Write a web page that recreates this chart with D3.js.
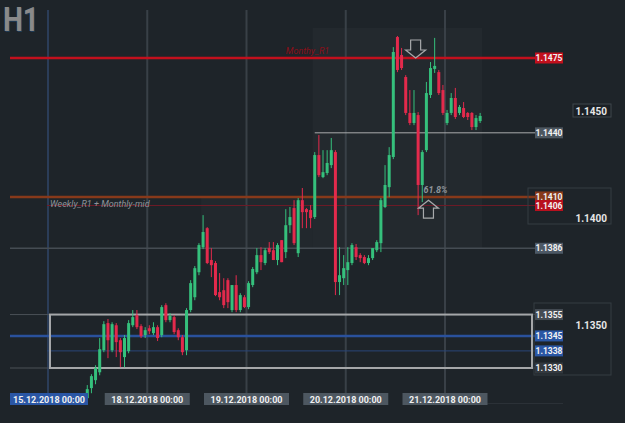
<!DOCTYPE html>
<html>
<head>
<script src="https://d3js.org/d3.v7.min.js"></script>
<style>
  body { margin: 0; background: #1e2429; }
  svg { display: block; font-family: Roboto, "DejaVu Sans", sans-serif; }
</style>
</head>
<body>
<svg width="625" height="423"></svg>
<script>
// hourly candles, first one is 15.12 09:00 (index counted in trading hours from 15.12 00:00)
const startHour = 9;
const opens = [1.13159,1.13206,1.13243,1.13280,1.13383,1.13510,1.13383,1.13500,1.13430,1.13351,1.13379,1.13500,1.13547,1.13496,1.13454,1.13486,1.13463,1.13491,1.13454,1.13594,1.13524,1.13538,1.13477,1.13444,1.13383,1.13571,1.13631,1.13748,1.13865,1.13954,1.13805,1.13791,1.13655,1.13664,1.13711,1.13571,1.13688,1.13571,1.13631,1.13585,1.13688,1.13748,1.13828,1.13791,1.13861,1.13851,1.13805,1.13898,1.13842,1.13968,1.14048,1.13837,1.14085,1.14043,1.14039,1.14006,1.14296,1.14193,1.14212,1.14249,1.14310,1.13702,1.13720,1.13758,1.13791,1.13865,1.13828,1.13819,1.13791,1.13814,1.13851,1.13884,1.14053,1.14146,1.14287,1.14848,1.14764,1.14661,1.14493,1.14446,1.14483,1.14156,1.14319,1.14577,1.14699,1.14684,1.14600,1.14446,1.14493,1.14563,1.14493,1.14516,1.14493,1.14493,1.14427,1.14455];
const highs = [1.13220,1.13271,1.13313,1.13440,1.13519,1.13529,1.13514,1.13510,1.13440,1.13454,1.13524,1.13571,1.13571,1.13505,1.13491,1.13500,1.13514,1.13500,1.13594,1.13603,1.13557,1.13547,1.13486,1.13454,1.13580,1.13711,1.13777,1.13884,1.14015,1.13959,1.13861,1.13800,1.13744,1.13720,1.13720,1.13688,1.13734,1.13650,1.13641,1.13706,1.13772,1.13861,1.13865,1.13861,1.13889,1.13889,1.13884,1.13898,1.14043,1.14053,1.14085,1.14095,1.14142,1.14048,1.14062,1.14310,1.14390,1.14319,1.14319,1.14376,1.14319,1.13865,1.13828,1.13865,1.13884,1.13880,1.13837,1.13828,1.13828,1.13861,1.13898,1.14095,1.14249,1.14333,1.14801,1.14853,1.14797,1.14670,1.14600,1.14600,1.14497,1.14319,1.14638,1.14731,1.14844,1.14694,1.14624,1.14507,1.14586,1.14610,1.14530,1.14544,1.14497,1.14497,1.14483,1.14493];
const lows = [1.13149,1.13182,1.13224,1.13266,1.13374,1.13346,1.13374,1.13351,1.13304,1.13304,1.13369,1.13491,1.13482,1.13440,1.13440,1.13458,1.13454,1.13426,1.13444,1.13514,1.13514,1.13458,1.13430,1.13360,1.13360,1.13561,1.13617,1.13734,1.13856,1.13786,1.13725,1.13636,1.13617,1.13580,1.13580,1.13561,1.13561,1.13561,1.13580,1.13575,1.13678,1.13739,1.13758,1.13781,1.13833,1.13805,1.13781,1.13795,1.13814,1.13931,1.13875,1.13819,1.13954,1.13954,1.13954,1.13997,1.14193,1.14188,1.14202,1.14235,1.13641,1.13641,1.13688,1.13688,1.13781,1.13805,1.13795,1.13786,1.13781,1.13805,1.13842,1.13842,1.14048,1.14099,1.14277,1.14684,1.14694,1.14483,1.14436,1.14436,1.14015,1.14076,1.14310,1.14563,1.14680,1.14577,1.14483,1.14436,1.14483,1.14465,1.14483,1.14469,1.14460,1.14413,1.14413,1.14446];
const closes = [1.13201,1.13262,1.13299,1.13388,1.13505,1.13430,1.13505,1.13421,1.13374,1.13440,1.13510,1.13538,1.13491,1.13449,1.13477,1.13472,1.13491,1.13440,1.13585,1.13524,1.13543,1.13468,1.13444,1.13374,1.13571,1.13697,1.13767,1.13875,1.13936,1.13791,1.13781,1.13641,1.13631,1.13594,1.13608,1.13688,1.13571,1.13641,1.13585,1.13697,1.13763,1.13828,1.13795,1.13851,1.13842,1.13805,1.13875,1.13795,1.13968,1.14006,1.13884,1.14085,1.14029,1.14029,1.14001,1.14296,1.14202,1.14216,1.14259,1.14319,1.13702,1.13734,1.13767,1.13795,1.13875,1.13819,1.13814,1.13791,1.13814,1.13861,1.13889,1.14085,1.14156,1.14296,1.14778,1.14694,1.14703,1.14493,1.14446,1.14493,1.14156,1.14310,1.14586,1.14703,1.14713,1.14586,1.14493,1.14493,1.14563,1.14474,1.14521,1.14474,1.14474,1.14427,1.14469,1.14479];

const dayIndex = [0, 24, 48, 72, 96];
const dayLabels = ["15.12.2018 00:00", "18.12.2018 00:00", "19.12.2018 00:00", "20.12.2018 00:00", "21.12.2018 00:00"];

const levelPrices = [1.1475, 1.1440, 1.1410, 1.1406, 1.1386, 1.1355, 1.1345, 1.1338, 1.1330];
const levelNames = ["1.1475", "1.1440", "1.1410", "1.1406", "1.1386", "1.1355", "1.1345", "1.1338", "1.1330"];
const axisTicks = [1.1450, 1.1400, 1.1350];

const svg = d3.select("svg");
const x = d3.scaleLinear().domain([0, 96]).range([48, 445]);
const y = d3.scaleLinear().domain([1.1330, 1.1475]).range([368, 58]);
const up = "#35c07c", down = "#e32a4c";

svg.append("rect").attr("width", 625).attr("height", 423).attr("fill", "#1e2429");

// faint zones behind the price
svg.append("rect").attr("x", x(64)).attr("y", 28).attr("width", x(105) - x(64)).attr("height", y(1.1386) - 28)
  .attr("fill", "#ffffff").attr("opacity", 0.025);
svg.append("rect").attr("x", x(37)).attr("y", y(1.1410)).attr("width", x(64) - x(37)).attr("height", y(1.1386) - y(1.1410))
  .attr("fill", "#ffffff").attr("opacity", 0.02);

// day separators
svg.selectAll(".vgrid").data(dayIndex).enter().append("line")
  .attr("x1", d => x(d)).attr("x2", d => x(d))
  .attr("y1", 10).attr("y2", 395)
  .attr("stroke", (d, k) => k === 0 ? "#2b3d58" : "#394047")
  .attr("stroke-width", 2);

// level lines
const levelStyle = {
  "1.1475": { color: "#c2101d", w: 2.5, x0: 10 },
  "1.1440": { color: "#a9abad", w: 1, x0: x(64.5) },
  "1.1410": { color: "#87391a", w: 2.5, x0: 10 },
  "1.1406": { color: "#6e1b27", w: 1, x0: 47 },
  "1.1386": { color: "#454c53", w: 1.5, x0: 10 },
  "1.1355": { color: "#4a5056", w: 1, x0: 10 },
  "1.1345": { color: "#2a519c", w: 2.5, x0: 10 },
  "1.1338": { color: "#2a4678", w: 1, x0: 47 },
  "1.1330": { color: "#4a5056", w: 1, x0: 10 }
};
levelPrices.forEach((p, k) => {
  const s = levelStyle[levelNames[k]];
  svg.append("line").attr("x1", s.x0).attr("x2", 535)
    .attr("y1", y(p)).attr("y2", y(p))
    .attr("stroke", s.color).attr("stroke-width", s.w);
});

// range box between 1.1355 and 1.1330
svg.append("rect").attr("x", 50).attr("y", y(1.1355))
  .attr("width", 482).attr("height", y(1.1330) - y(1.1355))
  .attr("fill", "none").attr("stroke", "#a5a7a9").attr("stroke-width", 2);

// candles
const candles = opens.map((o, k) => ({ i: startHour + k, o: o, h: highs[k], l: lows[k], c: closes[k] }));
svg.selectAll(".wick").data(candles).enter().append("line")
  .attr("x1", d => x(d.i + 0.5)).attr("x2", d => x(d.i + 0.5))
  .attr("y1", d => y(d.h)).attr("y2", d => y(d.l))
  .attr("stroke", d => d.c >= d.o ? up : down).attr("stroke-width", 1);
svg.selectAll(".body").data(candles).enter().append("rect")
  .attr("x", d => x(d.i + 0.5) - 1.5).attr("width", 3)
  .attr("y", d => y(Math.max(d.o, d.c)))
  .attr("height", d => Math.max(1, Math.abs(y(d.o) - y(d.c))))
  .attr("fill", d => d.c >= d.o ? up : down);

// annotations
svg.append("text").attr("x", x(57.5)).attr("y", y(1.1475) - 4)
  .attr("font-size", 9).attr("font-style", "italic").attr("fill", "#8a0f19").text("Monthy_R1");
svg.append("text").attr("x", 50).attr("y", y(1.1406) + 1)
  .attr("font-size", 9).attr("font-style", "italic").attr("fill", "#8d939a").text("Weekly_R1 + Monthly-mid");
svg.append("text").attr("x", x(90.8)).attr("y", y(1.1410) - 4)
  .attr("font-size", 9).attr("font-style", "italic").attr("font-weight", "bold").attr("fill", "#8f959b").text("61.8%");

function arrow(cx, tip, dir) {
  // dir = 1 pointing down, -1 pointing up
  const hw = 10, sw = 5, hh = 8, sh = 10;
  const pts = [
    [cx, tip], [cx + hw, tip - dir * hh], [cx + sw, tip - dir * hh], [cx + sw, tip - dir * (hh + sh)],
    [cx - sw, tip - dir * (hh + sh)], [cx - sw, tip - dir * hh], [cx - hw, tip - dir * hh]
  ];
  svg.append("polygon").attr("points", pts.map(p => p.join(",")).join(" "))
    .attr("fill", "none").attr("stroke", "#a7a9ab").attr("stroke-width", 1.2);
}
arrow(x(88.9), y(1.1475), 1);
arrow(x(92), y(1.14085), -1);

// right side frames
svg.append("rect").attr("x", 528).attr("y", 188).attr("width", 83).attr("height", 36)
  .attr("fill", "none").attr("stroke", "#353c43");
svg.append("rect").attr("x", 534).attr("y", 303).attr("width", 77).attr("height", 72)
  .attr("fill", "none").attr("stroke", "#353c43");
svg.append("rect").attr("x", 573).attr("y", 104).attr("width", 38).attr("height", 13)
  .attr("fill", "#1b2025").attr("stroke", "#3f464d");

// price axis ticks
svg.selectAll(".tick").data(axisTicks).enter().append("text")
  .attr("x", 607).attr("y", d => y(d) + 3.5).attr("text-anchor", "end")
  .attr("font-size", 10).attr("font-weight", "bold").attr("fill", "#e6e6e6")
  .text(d => d.toFixed(4));

// level tags
const tagFill = {
  "1.1475": "#c2101d", "1.1440": "#4d5760", "1.1410": "#87391a", "1.1406": "#b8101e",
  "1.1386": "#4d5966", "1.1355": "#454c53", "1.1345": "#2a56a4", "1.1338": "#2a56a4", "1.1330": "#33393f"
};
levelPrices.forEach((p, k) => {
  const n = levelNames[k];
  const g = svg.append("g").attr("transform", `translate(535,${y(p)})`);
  g.append("rect").attr("x", 0).attr("y", -5.5).attr("width", 28).attr("height", 11).attr("fill", tagFill[n]);
  g.append("text").attr("x", 14).attr("y", 3).attr("text-anchor", "middle")
    .attr("font-size", 8.5).attr("font-weight", "bold").attr("fill", "#f2f2f2").text(n);
});

// time axis labels
svg.append("line").attr("x1", 487).attr("x2", 563).attr("y1", 403.5).attr("y2", 403.5).attr("stroke", "#2b3137");
dayIndex.forEach((d, k) => {
  let cx = x(d);
  let w = 85;
  let left = cx - w / 2;
  if (k === 0) { left = 10; w = 78; }
  svg.append("rect").attr("x", left).attr("y", 393).attr("width", w).attr("height", 12)
    .attr("fill", k === 0 ? "#2a56a4" : "#4d5760");
  svg.append("text").attr("x", left + w / 2).attr("y", 402.5).attr("text-anchor", "middle")
    .attr("font-size", 9).attr("font-weight", "bold").attr("fill", "#f0f0f0").text(dayLabels[k]);
});

// timeframe
svg.append("text").attr("x", 3).attr("y", 31)
  .attr("font-size", 33).attr("font-weight", "bold").attr("fill", "#1d3a55")
  .attr("textLength", 36).attr("lengthAdjust", "spacingAndGlyphs")
  .attr("transform", "translate(1,1)").text("H1");
svg.append("text").attr("x", 3).attr("y", 31)
  .attr("font-size", 33).attr("font-weight", "bold").attr("fill", "#8a8a8a")
  .attr("textLength", 36).attr("lengthAdjust", "spacingAndGlyphs").text("H1");
</script>
</body>
</html>
